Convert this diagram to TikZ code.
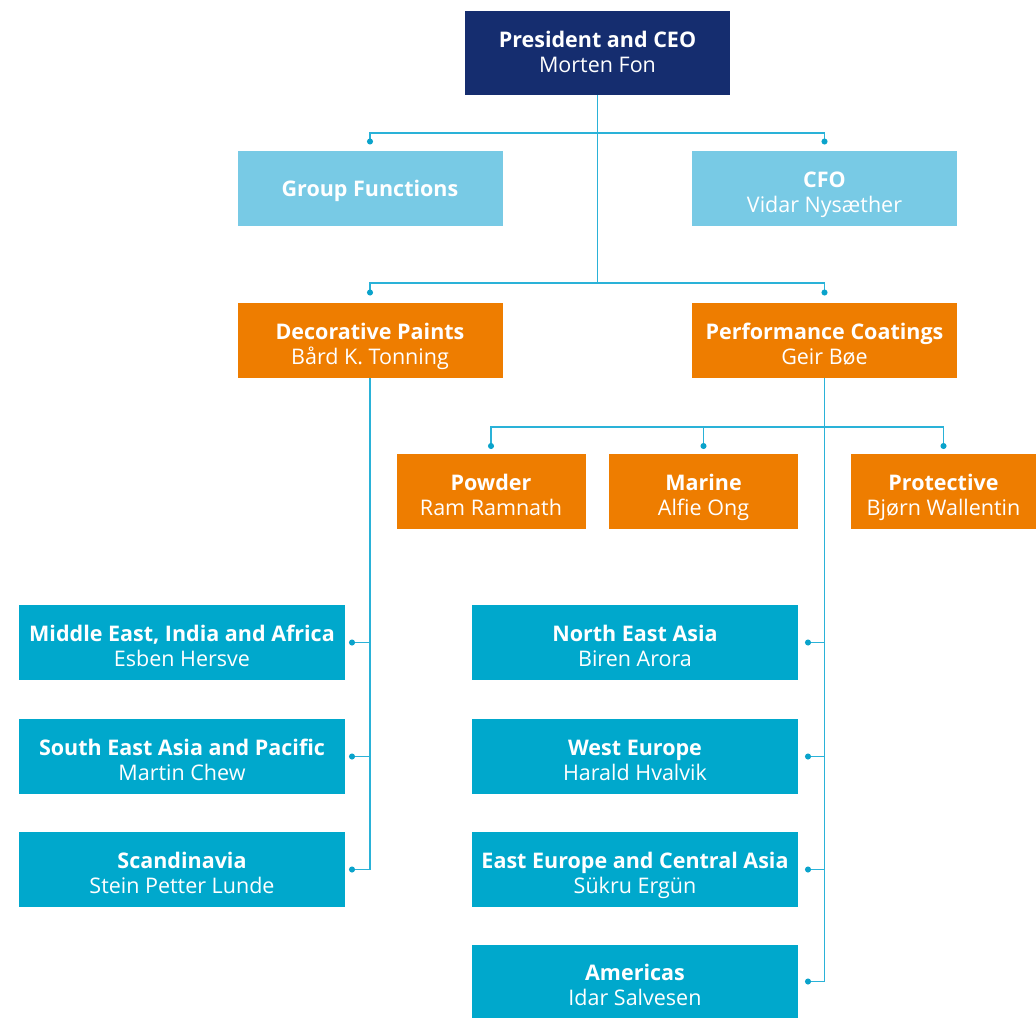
\documentclass[tikz,border=0pt]{standalone}
\usepackage{fontspec}
\setmainfont{Open Sans}
\usetikzlibrary{arrows.meta}
\definecolor{navy}{HTML}{152D6F}
\definecolor{lblue}{HTML}{78CAE5}
\definecolor{orng}{HTML}{EE7D00}
\definecolor{region}{HTML}{00A8CC}
\definecolor{linec}{HTML}{2AB2D8}
\definecolor{dotc}{HTML}{0AA3CB}
\begin{document}
\begin{tikzpicture}[x=1pt,y=-1pt,
  boxshape/.style={inner sep=0pt,outer sep=0pt},
  titletext/.style={inner sep=0pt,text=white,font=\bfseries\fontsize{21.5}{26}\selectfont},
  subtext/.style={inner sep=0pt,text=white,font=\fontsize{21.5}{26}\selectfont},
  conn/.style={draw=linec,line width=1.3pt},
  dotted end/.style={-{Circle[length=6pt,color=dotc]}},
  both dots/.style={{Circle[length=6pt,color=dotc]}-{Circle[length=6pt,color=dotc]}}]
\useasboundingbox (0,0) rectangle (1036,1018);
% #1 name, #2 cx, #3 cy, #4 width, #5 height, #6 fill, #7 title, #8 subtitle
\newcommand{\orgbox}[8]{%
  \node[boxshape,fill=#6,minimum width=#4pt,minimum height=#5pt] (#1) at (#2,#3) {};
  \node[titletext,anchor=base] (#1t) at ([yshift=1.5pt]#1.center) {#7};
  \node[subtext,anchor=base] (#1s) at ([yshift=-24pt]#1.center) {#8};}
% top
\node[boxshape,fill=navy,minimum width=265pt,minimum height=84pt] (ceo) at (597.5,53) {};
\node[titletext,anchor=base] (ceot) at ([yshift=6pt]ceo.center) {President and CEO};
\node[subtext,anchor=base] (ceos) at ([yshift=-19pt]ceo.center) {Morten Fon};
\node[boxshape,fill=lblue,minimum width=265pt,minimum height=75pt] (gf) at (370,188.5) {};
\node[titletext,anchor=base] (gft) at ([yshift=-7.5pt]gf.center) {Group Functions};
\orgbox{cfo}{824.5}{188.5}{265}{75}{lblue}{CFO}{Vidar Nysæther}
\orgbox{dp}{370}{340.5}{265}{75}{orng}{Decorative Paints}{Bård K. Tonning}
\orgbox{pc}{824.5}{340.5}{265}{75}{orng}{Performance Coatings}{Geir Bøe}
% segments
\orgbox{pw}{491}{491.5}{189}{75}{orng}{Powder}{Ram Ramnath}
\orgbox{ma}{703.5}{491.5}{189}{75}{orng}{Marine}{Alfie Ong}
\orgbox{pr}{943.5}{491.5}{185}{75}{orng}{Protective}{Bjørn Wallentin}
% left regions
\orgbox{me}{182}{642.5}{326}{75}{region}{Middle East, India and Africa}{Esben Hersve}
\orgbox{se}{182}{756.5}{326}{75}{region}{South East Asia and Pacific}{Martin Chew}
\orgbox{sc}{182}{869.5}{326}{75}{region}{Scandinavia}{Stein Petter Lunde}
% right regions
\orgbox{ne}{635}{642.5}{326}{75}{region}{North East Asia}{Biren Arora}
\orgbox{we}{635}{756.5}{326}{75}{region}{West Europe}{Harald Hvalvik}
\orgbox{ee}{635}{869.5}{326}{75}{region}{East Europe and Central Asia}{Sükru Ergün}
\orgbox{am}{635}{981.5}{326}{73}{region}{Americas}{Idar Salvesen}
% connectors
\coordinate (j1) at (597.5,133);
\coordinate (j2) at (597.5,283);
\coordinate (j3) at (824.5,427);
\draw[conn] (ceo.south) -- (j2);
\draw[conn,both dots] ([yshift=6.5pt]gf.north) |- (j1) -| ([yshift=6.5pt]cfo.north);
\draw[conn,both dots] ([yshift=7.5pt]dp.north) |- (j2) -| ([yshift=7.5pt]pc.north);
\draw[conn,both dots] ([yshift=5pt]pw.north) |- (j3) -| ([yshift=5pt]pr.north);
\draw[conn,dotted end] (ma.north |- j3) -- ([yshift=5pt]ma.north);
% decorative paints spine
\draw[conn] (dp.south) -- (dp.south |- sc.east);
\draw[conn,dotted end] (dp.south |- me.east) -- ([xshift=4pt]me.east);
\draw[conn,dotted end] (dp.south |- se.east) -- ([xshift=4pt]se.east);
\draw[conn,dotted end] (dp.south |- sc.east) -- ([xshift=4pt]sc.east);
% performance coatings spine
\draw[conn] (pc.south) -- (pc.south |- am.east);
\draw[conn,dotted end] (pc.south |- ne.east) -- ([xshift=7pt]ne.east);
\draw[conn,dotted end] (pc.south |- we.east) -- ([xshift=7pt]we.east);
\draw[conn,dotted end] (pc.south |- ee.east) -- ([xshift=7pt]ee.east);
\draw[conn,dotted end] (pc.south |- am.east) -- ([xshift=7pt]am.east);
\end{tikzpicture}
\end{document}
